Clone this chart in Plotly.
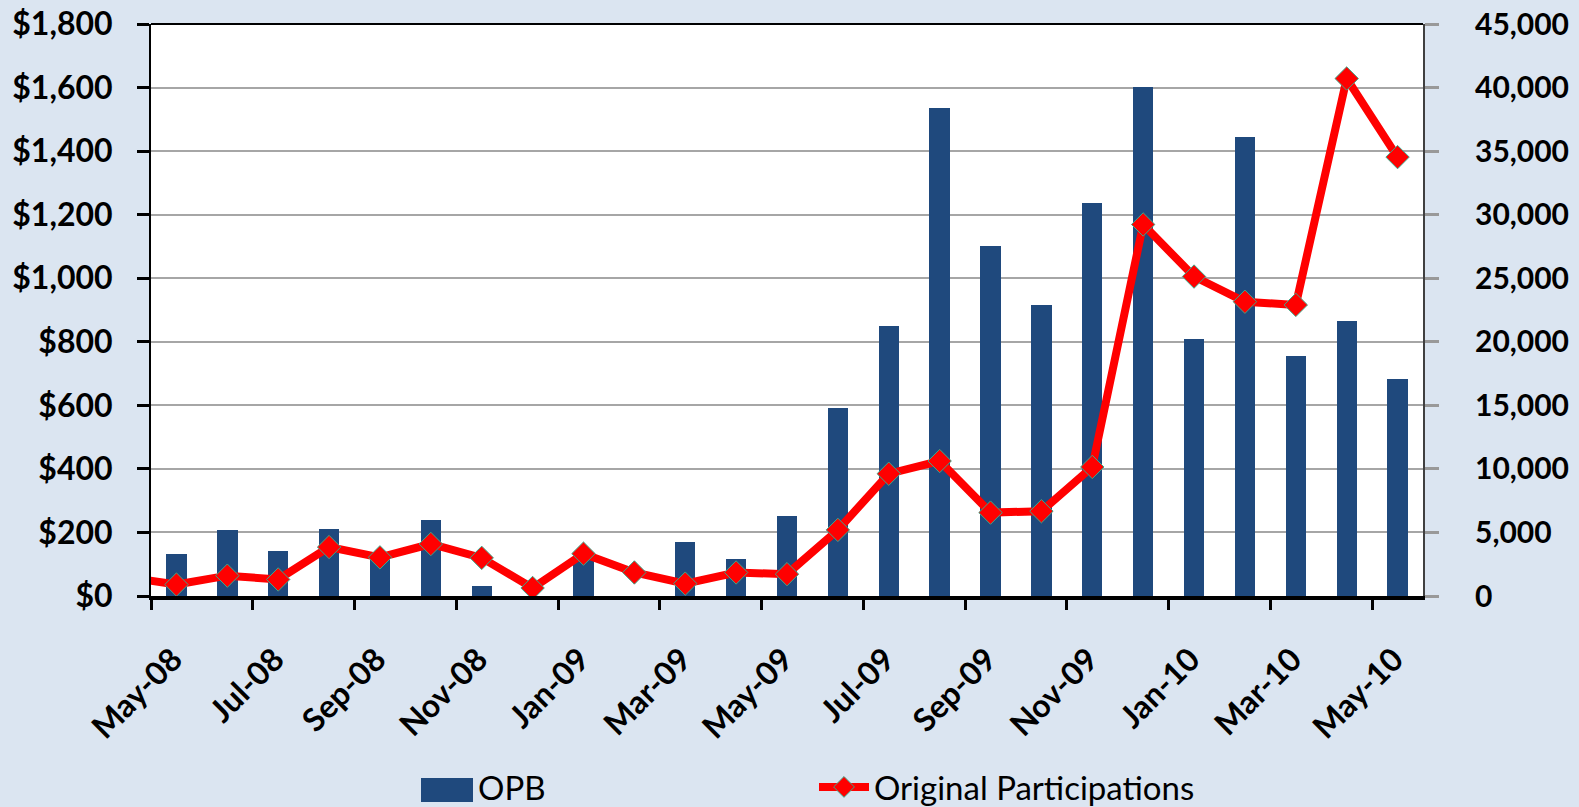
import plotly.graph_objects as go

months = ["May-08", "Jun-08", "Jul-08", "Aug-08", "Sep-08", "Oct-08", "Nov-08", "Dec-08",
          "Jan-09", "Feb-09", "Mar-09", "Apr-09", "May-09", "Jun-09", "Jul-09", "Aug-09",
          "Sep-09", "Oct-09", "Nov-09", "Dec-09", "Jan-10", "Feb-10", "Mar-10", "Apr-10", "May-10"]
opb = [133, 208, 142, 212, 120, 238, 32, 0, 128, 0, 170, 117, 253, 593, 851, 1535,
       1100, 915, 1238, 1601, 810, 1445, 755, 864, 682]
participations = [900, 1600, 1300, 3850, 3040, 4090, 3000, 630, 3330, 1850, 975, 1850,
                  1720, 5200, 9620, 10620, 6560, 6670, 10150, 29230, 25130, 23150, 22900,
                  40710, 34530]
# value of the month before May-08 (the line enters the chart from the left edge)
participations_prev = 1500

tick_labels = months[::2]

x = list(range(len(months)))
tickvals = [i - 0.5 for i in x[::2]]

FONT = "Lato"
BAR = "#1F497D"
RED = "#FF0000"
BG = "#DBE5F1"
TF = dict(family=FONT, size=32, color="#000000", weight="bold")
TF2 = dict(family=FONT, size=30, color="#000000", weight="bold")

fig = go.Figure()
fig.add_trace(go.Bar(x=x, y=opb, name="OPB", marker=dict(color=BAR, line_width=0),
                     width=0.4, yaxis="y", showlegend=False))
# lead-in segment (no markers)
fig.add_trace(go.Scatter(x=[-1, 0], y=[participations_prev, participations[0]], mode="lines",
                         line=dict(color=RED, width=8), yaxis="y2", showlegend=False,
                         hoverinfo="skip"))
fig.add_trace(go.Scatter(x=x, y=participations, name="Original Participations",
                         mode="lines+markers", yaxis="y2", cliponaxis=False,
                         line=dict(color=RED, width=8),
                         marker=dict(symbol="diamond", size=18, color=RED,
                                     line=dict(color="#3CA88A", width=1))))

L, R, T, B = 151, 156, 24, 211
PW = 1579 - L - R
PH = 807 - T - B


def px(v):
    return (v - L) / PW


def py(v):
    return (807 - B - v) / PH


fig.update_layout(
    width=1579, height=807,
    paper_bgcolor=BG, plot_bgcolor="#FFFFFF",
    margin=dict(l=L, r=R, t=T, b=B, autoexpand=False),
    font=dict(family=FONT, size=32, color="#000000"),
    bargap=0,
    xaxis=dict(range=[-0.5, len(months) - 0.5], tickmode="array", tickvals=tickvals,
               ticktext=tick_labels, tickangle=-45, ticks="outside", ticklen=10,
               tickwidth=3, tickcolor="#000000", showline=True, linecolor="#000000",
               linewidth=4, showgrid=False, zeroline=False, automargin=False,
               tickfont=TF, ticklabelshift=22, ticklabelstandoff=18),
    yaxis=dict(range=[0, 1800], tickvals=list(range(0, 1801, 200)),
               ticktext=["$" + format(v, ",") for v in range(0, 1801, 200)],
               ticks="outside", ticklen=12, tickwidth=3, tickcolor="#000000",
               showline=True, linecolor="#000000", linewidth=2, automargin=False,
               showgrid=True, gridcolor="#A6A6A6", gridwidth=2, zeroline=False,
               tickfont=TF, ticklabelstandoff=18),
    yaxis2=dict(range=[0, 45000], overlaying="y", side="right",
                tickvals=list(range(0, 45001, 5000)),
                ticktext=[format(v, ",") for v in range(0, 45001, 5000)],
                ticks="outside", ticklen=14, tickwidth=3, tickcolor="#999999",
                showline=True, linecolor="#404040", linewidth=2, automargin=False,
                showgrid=False, zeroline=False, tickfont=TF2, ticklabelstandoff=30),
    legend=dict(orientation="h", x=px(814), xanchor="left", y=py(787), yanchor="middle",
                font=dict(family=FONT, size=33, color="#000000"), bgcolor="rgba(0,0,0,0)",
                itemwidth=50),
    shapes=[
        dict(type="line", xref="paper", yref="paper", x0=0, x1=1, y0=1, y1=1,
             line=dict(color="#000000", width=2)),
        dict(type="rect", xref="paper", yref="paper", x0=px(421), x1=px(473),
             y0=py(802), y1=py(778), fillcolor=BAR, line=dict(width=0)),
    ],
    annotations=[dict(text="OPB", xref="paper", yref="paper", x=px(476), y=py(787),
                      xanchor="left", yanchor="middle", showarrow=False,
                      font=dict(family=FONT, size=33, color="#000000"))],
)

fig.write_html("out.html", config={"displayModeBar": False},
               post_script="document.body.style.margin='0';"
                           "document.body.style.background='" + BG + "';")
